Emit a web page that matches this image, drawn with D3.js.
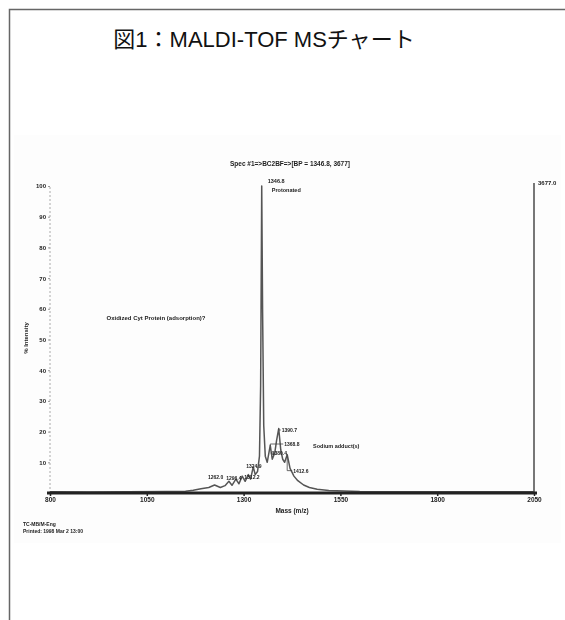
<!DOCTYPE html>
<html>
<head>
<meta charset="utf-8">
<script src="https://cdn.jsdelivr.net/npm/d3@7"></script>
<style>
  body { margin: 0; background: #fff; }
  svg { display: block; }
  .chart text { font-family: "Liberation Sans", Arial, sans-serif; font-weight: bold; fill: #222; }
</style>
</head>
<body>
<div id="chart"></div>
<script>
// axis ticks
const massTicks = [800, 1050, 1300, 1550, 1800, 2050];
const intensityTicks = [10, 20, 30, 40, 50, 60, 70, 80, 90, 100];

// spectrum (m/z, % intensity)
const specMass = [800, 900, 1000, 1100, 1150, 1170, 1190, 1210, 1225, 1240, 1252, 1262, 1270, 1280, 1288,
    1296.4, 1304, 1312.2, 1318, 1324.9, 1330, 1336, 1341, 1344, 1346.8, 1349, 1352, 1356, 1361,
    1368.8, 1374, 1380.4, 1385, 1390.7, 1396, 1401, 1406, 1412.6, 1420, 1430, 1440, 1455, 1470,
    1490, 1520, 1600, 1800, 2050];
const specIntensity = [0.4, 0.3, 0.4, 0.5, 0.6, 0.9, 1.4, 1.8, 2.6, 1.8, 2.4, 3.8, 2.5, 4.5, 3.0,
    5.5, 3.8, 6.0, 4.5, 8.5, 6.0, 7.0, 12, 35, 100, 60, 22, 12, 10,
    15.5, 11, 13, 17, 21, 14, 11, 10, 12.5, 8, 5.5, 4, 2.6, 1.8,
    1.2, 0.8, 0.5, 0.4, 0.4];

// labelled peaks
const peakMass = [1346.8, 1390.7, 1368.8, 1380.4, 1412.6, 1324.9, 1262.0, 1296.4, 1312.2];
const peakIntensity = [100, 21, 15.5, 13, 12.5, 8.5, 3.8, 5.5, 6.0];
const peakText = ["1346.8", "1390.7", "1368.8", "1380.4", "1412.6", "1324.9", "1262.0", "1296.4", "1312.2"];

const titleText = "図1：MALDI-TOF MSチャート";
const specTitle = "Spec #1=>BC2BF=>[BP = 1346.8, 3677]";
const mainNote = "Protonated";
const sodiumNote = "Sodium adduct(s)";
const sideNote = "Oxidized Cyt Protein (adsorption)?";
const maxCounts = "3677.0";
const footer = ["TC-MB/M-Eng", "Printed: 1998 Mar 2 13:00"];

var W = 565, H = 620;

var svg = d3.select("#chart").append("svg")
    .attr("width", W)
    .attr("height", H);

// frame (open at right and bottom, like the page clip)
svg.append("path")
    .attr("d", "M9.5," + H + "V9.5H" + W)
    .style("fill", "none")
    .style("stroke", "#666")
    .style("stroke-width", 1.5);

svg.append("text")
    .attr("x", 264)
    .attr("y", 47)
    .attr("text-anchor", "middle")
    .style("font-family", "'Liberation Sans', Arial, 'Noto Sans CJK JP', sans-serif")
    .style("font-size", "22px")
    .style("fill", "#111")
    .text(titleText);

var defs = svg.append("defs");
defs.append("filter")
    .attr("id", "scan")
    .attr("filterUnits", "userSpaceOnUse")
    .attr("x", 0).attr("y", 0).attr("width", W).attr("height", H)
    .append("feGaussianBlur")
    .attr("stdDeviation", 0.5);

var g = svg.append("g")
    .attr("class", "chart")
    .style("filter", "url(#scan)");

// faint scanned-paper area
g.append("rect")
    .attr("x", 14).attr("y", 135)
    .attr("width", 547).attr("height", 408)
    .style("fill", "#fdfdfd");

var x = d3.scaleLinear().domain([800, 2050]).range([50, 534]);
var y = d3.scaleLinear().domain([0, 100]).range([493, 186]);

// left intensity axis
var yAxis = g.append("g")
    .attr("transform", "translate(" + x.range()[0] + ",0)")
    .call(d3.axisLeft(y).tickValues(intensityTicks).tickSize(2).tickPadding(2).tickFormat(d3.format("d")));
yAxis.select(".domain")
    .attr("d", "M0," + y(0) + "V" + y(100))
    .style("stroke", "#aaa")
    .style("stroke-dasharray", "2,2");
yAxis.selectAll(".tick line").style("stroke", "#999");
yAxis.selectAll("text").style("font-size", "6px").style("font-family", "'Liberation Sans', Arial, sans-serif");

g.append("text")
    .attr("transform", "translate(28,338) rotate(-90)")
    .attr("text-anchor", "middle")
    .style("font-size", "6px")
    .text("% Intensity");

// right counts axis
g.append("line")
    .attr("x1", x(2050)).attr("x2", x(2050))
    .attr("y1", y(0)).attr("y2", y(100) - 3)
    .style("stroke", "#777")
    .style("stroke-width", 2);
g.append("text")
    .attr("x", x(2050) + 4)
    .attr("y", y(100) - 1)
    .style("font-size", "6px")
    .text(maxCounts);

// spectrum
var line = d3.line()
    .x(function(d) { return x(d[0]); })
    .y(function(d) { return y(d[1]); });

var spec = specMass.map(function(m, i) { return [m, specIntensity[i]]; });

g.append("path")
    .datum(spec)
    .attr("d", line)
    .style("fill", "none")
    .style("stroke", "#555")
    .style("stroke-width", 1.5)
    .style("stroke-linejoin", "round");

// mass axis
var xAxis = g.append("g")
    .attr("transform", "translate(0," + y(0) + ")")
    .call(d3.axisBottom(x).tickValues(massTicks).tickSize(3).tickPadding(1).tickFormat(d3.format("d")));
xAxis.select(".domain")
    .attr("d", "M" + (x.range()[0] - 3) + ",0H" + (x.range()[1] + 3))
    .style("stroke", "#222")
    .style("stroke-width", 3);
xAxis.selectAll(".tick line").style("stroke", "#222").style("stroke-width", 1.5);
xAxis.selectAll("text").style("font-size", "6.5px").style("font-family", "'Liberation Sans', Arial, sans-serif");

g.append("text")
    .attr("x", 292)
    .attr("y", 513)
    .attr("text-anchor", "middle")
    .style("font-size", "6.5px")
    .text("Mass (m/z)");

g.append("text")
    .attr("x", 290)
    .attr("y", 166)
    .attr("text-anchor", "middle")
    .style("font-size", "6.5px")
    .text(specTitle);

// peak labels: offsets from each peak top
var labelOffset = [[6, -3], [3, 3.5], [14, 0.6], [-3, 2], [6, 18], [-7, 1], [-21, -2], [-16, 4], [-4, 4]];

var peaks = peakMass.map(function(m, i) {
    var px = x(m), py = y(peakIntensity[i]);
    return {px: px, py: py, lx: px + labelOffset[i][0], ly: py + labelOffset[i][1], text: peakText[i], i: i};
});

g.selectAll(".leader")
    .data(peaks.filter(function(d) { return d.i >= 1 && d.i <= 4; }))
    .enter().append("path")
    .attr("class", "leader")
    .attr("d", function(d) { return "M" + d.px + "," + d.py + "V" + (d.ly - 2) + "H" + (d.lx - 1); })
    .style("fill", "none")
    .style("stroke", "#444")
    .style("stroke-width", 0.8);

g.selectAll(".peakLabel")
    .data(peaks)
    .enter().append("text")
    .attr("class", "peakLabel")
    .attr("x", function(d) { return d.lx; })
    .attr("y", function(d) { return d.ly; })
    .style("font-size", function(d) { return d.i === 0 ? "5.5px" : "5px"; })
    .text(function(d) { return d.text; });

g.append("text")
    .attr("x", peaks[0].lx + 4)
    .attr("y", peaks[0].ly + 9)
    .style("font-size", "5.5px")
    .text(mainNote);

g.append("text")
    .attr("x", 313)
    .attr("y", 448)
    .style("font-size", "5.5px")
    .text(sodiumNote);

g.append("text")
    .attr("x", 156)
    .attr("y", 320)
    .attr("text-anchor", "middle")
    .style("font-size", "6px")
    .text(sideNote);

g.selectAll(".footer")
    .data(footer)
    .enter().append("text")
    .attr("class", "footer")
    .attr("x", 23)
    .attr("y", function(d, i) { return 526 + i * 7; })
    .style("font-size", "5px")
    .text(function(d) { return d; });
</script>
</body>
</html>
